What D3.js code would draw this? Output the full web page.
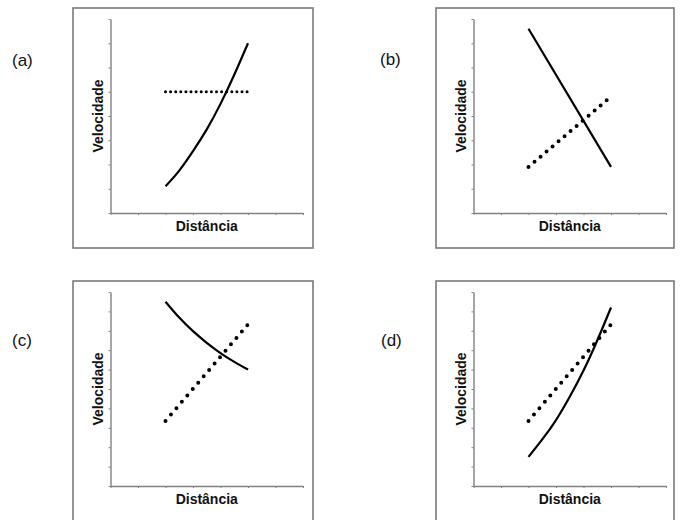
<!DOCTYPE html>
<html>
<head>
<meta charset="utf-8">
<script src="https://cdn.jsdelivr.net/npm/d3@7"></script>
<style>
  body { margin: 0; background: #fff; }
  svg { display: block; }
</style>
</head>
<body>
<div class="chart"></div>
<script>
const width = 680;
const height = 520;

// data (x: distance, y: velocity)
const panelLabels = ["(a)", "(b)", "(c)", "(d)"];
const xLabel = "Distância";
const yLabel = "Velocidade";
const xMax = 7;
const yMaxes = [8, 8, 10, 10];

const solidA = [[2, 1.1], [2.5, 1.75], [3, 2.55], [3.5, 3.45], [4, 4.5], [4.5, 5.7], [5, 7.0]];
const dottedA = [[2, 5.0], [5, 5.0]];
const solidB = [[2, 7.6], [5, 1.9]];
const dottedB = [[2, 1.9], [5, 4.8]];
const solidC = [[2, 9.5], [2.5, 8.68], [3, 7.98], [3.5, 7.38], [4, 6.85], [4.5, 6.4], [5, 6.0]];
const dottedC = [[2, 3.35], [5, 8.33]];
const solidD = [[2, 1.5], [2.5, 2.4], [3, 3.4], [3.5, 4.6], [4, 5.95], [4.5, 7.5], [5, 9.2]];
const dottedD = [[2, 3.35], [5, 8.33]];

const solids = [solidA, solidB, solidC, solidD];
const dotteds = [dottedA, dottedB, dottedC, dottedD];

// layout of the 2x2 grid
const boxes = [
    { x: 73, y: 8, w: 240, h: 240, lx: 12, ly: 60 },
    { x: 436, y: 8, w: 238, h: 240, lx: 380, ly: 59 },
    { x: 73, y: 281, w: 240, h: 242, lx: 12, ly: 340 },
    { x: 436, y: 281, w: 238, h: 242, lx: 381, ly: 340 }
];
const dotStyle = [
    { w: 3, gap: 5.1 },
    { w: 4, gap: 7.9 },
    { w: 4, gap: 8.4 },
    { w: 4, gap: 8.4 }
];

const svg = d3.select(".chart")
    .append("svg")
    .attr("width", width)
    .attr("height", height)
    .style("font-family", "'Liberation Sans', Arial, sans-serif");

boxes.forEach((b, i) => {
    const g = svg.append("g");

    // frame
    g.append("rect")
        .attr("x", b.x)
        .attr("y", b.y)
        .attr("width", b.w)
        .attr("height", b.h)
        .attr("fill", "none")
        .attr("stroke", "#7a7a7a")
        .attr("stroke-width", 1.6);

    // panel letter
    svg.append("text")
        .attr("x", b.lx)
        .attr("y", b.ly)
        .attr("dy", "0.35em")
        .attr("font-size", "17px")
        .attr("fill", "#111")
        .text(panelLabels[i]);

    const left = b.x + 37.5;
    const right = b.x + 230;
    const top = b.y + 11;
    const bottom = b.y + 205;

    const x = d3.scaleLinear().domain([0, xMax]).range([left, right]);
    const y = d3.scaleLinear().domain([0, yMaxes[i]]).range([bottom, top]);

    const xAxis = g.append("g")
        .attr("transform", `translate(0,${bottom})`)
        .call(d3.axisBottom(x).tickValues(d3.range(0, xMax + 1)).tickSize(2).tickSizeOuter(0).tickFormat(""));
    const yAxis = g.append("g")
        .attr("transform", `translate(${left},0)`)
        .call(d3.axisLeft(y).tickValues(d3.range(0, yMaxes[i] + 1)).tickSize(2).tickSizeOuter(0).tickFormat(""));
    [xAxis, yAxis].forEach(a => {
        a.select(".domain").attr("stroke", "#808080").attr("stroke-width", 1.4);
        a.selectAll(".tick line").attr("stroke", "#808080").attr("stroke-width", 1);
    });

    // axis titles
    g.append("text")
        .attr("x", (left + right) / 2)
        .attr("y", bottom + 18)
        .attr("text-anchor", "middle")
        .attr("font-size", "14px")
        .attr("font-weight", "bold")
        .attr("fill", "#111")
        .text(xLabel);

    g.append("text")
        .attr("transform", `translate(${left - 8},${(top + bottom) / 2}) rotate(-90)`)
        .attr("text-anchor", "middle")
        .attr("font-size", "14px")
        .attr("font-weight", "bold")
        .attr("fill", "#111")
        .text(yLabel);

    const line = d3.line()
        .x(d => x(d[0]))
        .y(d => y(d[1]))
        .curve(d3.curveNatural);

    // dotted series
    g.append("path")
        .datum(dotteds[i])
        .attr("d", line)
        .attr("fill", "none")
        .attr("stroke", "#000")
        .attr("stroke-width", dotStyle[i].w)
        .attr("stroke-linecap", "round")
        .attr("stroke-dasharray", `0 ${dotStyle[i].gap}`);

    // solid series
    g.append("path")
        .datum(solids[i])
        .attr("d", line)
        .attr("fill", "none")
        .attr("stroke", "#000")
        .attr("stroke-width", 2.2);
});
</script>
</body>
</html>
